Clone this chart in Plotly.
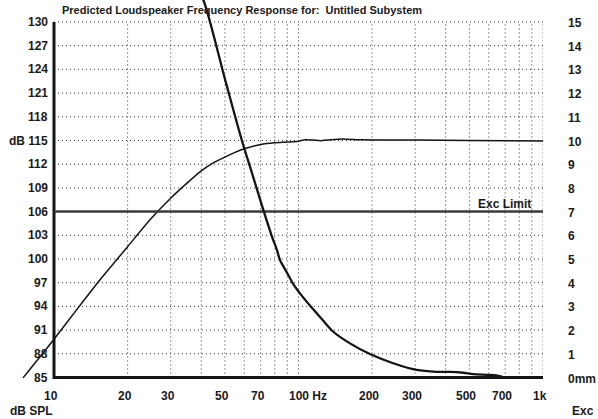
import math
import plotly.graph_objects as go

# SPL response (Hz, dB SPL)
spl_freq = [7.47, 10, 12.5, 15.4, 20, 25, 30, 35, 40, 45, 50, 55, 60, 70, 80, 90, 100, 106,
            115, 123, 135, 152, 180, 215, 300, 500, 1000]
spl_db = [84.95, 89.84, 93.75, 97.34, 101.56, 105.15, 107.7, 109.6, 111.15, 112.2, 112.9,
          113.5, 113.95, 114.5, 114.72, 114.8, 114.9, 115.1, 115.05, 114.97, 115.1, 115.2,
          115.08, 115.06, 115.05, 115.0, 114.95]

# Cone excursion (Hz, mm)
exc_freq = [39.2, 40.8, 50, 58.6, 65, 71.8, 77.7, 81.6, 84, 90, 95.2, 101.4, 113.2, 125,
            138.8, 162.4, 196, 244, 304, 367, 417, 472, 519, 607, 667, 690]
exc_mm = [16.18, 15.93, 12.6, 10.02, 8.52, 7.07, 5.98, 5.38, 4.96, 4.40, 3.94, 3.55, 2.95, 2.45,
          1.93, 1.44, 0.99, 0.60, 0.32, 0.24, 0.24, 0.20, 0.14, 0.11, 0.06, 0.0]

exc_limit_mm = 7

# Axis ticks
db_ticks = [85, 88, 91, 94, 97, 100, 103, 106, 109, 112, 115, 118, 121, 124, 127, 130]
db_labels = ["85", "88", "91", "94", "97", "100", "103", "106", "109", "112", "dB 115",
             "118", "121", "124", "127", "130"]
mm_ticks = list(range(0, 16))
mm_labels = ["0mm"] + [str(v) for v in range(1, 16)]
freq_ticks = [10, 20, 30, 50, 70, 100, 200, 300, 500, 700, 1000]
freq_labels = ["10", "20", "30", "50", "70", "100 Hz", "200", "300", "500", "700", "1k"]
grid_freqs = [20, 30, 40, 50, 60, 70, 80, 90, 100, 200, 300, 400, 500, 600, 700, 800, 900, 1000]

F_MIN, F_MAX = 10, 1000
DB_MIN, DB_MAX = 85, 130

FONT = dict(family="Liberation Sans, Arial, sans-serif", size=12, color="#1a1a1a", weight="bold")
TITLE_FONT = dict(FONT, size=11)
INK = "#141414"

fig = go.Figure()

# dotted grid
gx, gy = [], []
for f in grid_freqs:
    gx += [f, f, None]
    gy += [DB_MIN, DB_MAX, None]
for d in db_ticks[1:]:
    gx += [F_MIN, F_MAX, None]
    gy += [d, d, None]
fig.add_trace(go.Scatter(x=gx, y=gy, mode="lines", hoverinfo="skip",
                         line=dict(color="#333333", width=1, dash="1px,3px")))

# excursion limit
fig.add_trace(go.Scatter(x=[F_MIN, F_MAX], y=[exc_limit_mm, exc_limit_mm], yaxis="y2",
                         mode="lines", line=dict(color="#3a3a3a", width=2.5)))

# left and bottom axis lines
fig.add_trace(go.Scatter(x=[F_MIN, F_MIN, F_MAX], y=[DB_MAX, DB_MIN, DB_MIN], mode="lines",
                         line=dict(color=INK, width=3)))

fig.add_trace(go.Scatter(x=spl_freq, y=spl_db, mode="lines", line_shape="spline",
                         line=dict(color=INK, width=1.5, smoothing=0.6)))
fig.add_trace(go.Scatter(x=exc_freq, y=exc_mm, yaxis="y2", mode="lines", line_shape="spline",
                         line=dict(color=INK, width=2.3, smoothing=0.8)))

# axis geometry: 10 Hz .. 1 kHz spans the framed region, with room around it
px_per_dec = 244.5
left_px = 34
x_lo = math.log10(F_MIN) - left_px / px_per_dec
px_per_db = 7.9
y_hi = DB_MAX + 22 / px_per_db
y_lo = DB_MIN - 3.5 / px_per_db

ann = []
for d, t in zip(db_ticks, db_labels):
    ann.append(dict(x=math.log10(F_MIN), y=d, xref="x", yref="y", text=t, showarrow=False,
                    xanchor="right", yanchor="middle", xshift=-4, font=FONT))
for m, t in zip(mm_ticks, mm_labels):
    ann.append(dict(x=math.log10(F_MAX), y=m, xref="x", yref="y2", text=t, showarrow=False,
                    xanchor="left", yanchor="middle", xshift=23, yshift=-1, font=FONT))
for f, t in zip(freq_ticks, freq_labels):
    if t.endswith("Hz"):
        ann.append(dict(x=math.log10(f), y=DB_MIN, xref="x", yref="y", text=t, showarrow=False,
                        xanchor="left", yanchor="middle", xshift=-12, yshift=-18, font=FONT))
    else:
        ann.append(dict(x=math.log10(f), y=DB_MIN, xref="x", yref="y", text=t, showarrow=False,
                        xanchor="center", yanchor="middle", xshift=-3, yshift=-18, font=FONT))
ann.append(dict(x=math.log10(F_MIN), y=DB_MIN, xref="x", yref="y", text="dB SPL",
                showarrow=False, xanchor="left", yanchor="middle", xshift=-46, yshift=-33,
                font=FONT))
ann.append(dict(x=math.log10(F_MAX), y=DB_MIN, xref="x", yref="y", text="Exc",
                showarrow=False, xanchor="left", yanchor="middle", xshift=27, yshift=-33,
                font=FONT))
ann.append(dict(x=math.log10(F_MAX), y=exc_limit_mm, xref="x", yref="y2", text="Exc Limit",
                showarrow=False, xanchor="right", yanchor="middle", xshift=-10, yshift=8,
                font=FONT))
ann.append(dict(x=math.log10(F_MIN), y=DB_MAX, xref="x", yref="y",
                text="Predicted Loudspeaker Frequency Response for:  Untitled Subystem",
                showarrow=False, xanchor="left", yanchor="middle", xshift=6, yshift=12,
                font=TITLE_FONT))

fig.update_layout(
    width=598, height=419,
    margin=dict(l=20, r=55, t=0, b=38, pad=0),
    paper_bgcolor="white", plot_bgcolor="white",
    showlegend=False,
    xaxis=dict(type="log", range=[x_lo, math.log10(F_MAX)], visible=False, fixedrange=True),
    yaxis=dict(range=[y_lo, y_hi], visible=False, fixedrange=True),
    yaxis2=dict(range=[(y_lo - DB_MIN) / 3, (y_hi - DB_MIN) / 3], overlaying="y",
                visible=False, fixedrange=True),
    annotations=ann,
)

fig.write_html("out.html")
